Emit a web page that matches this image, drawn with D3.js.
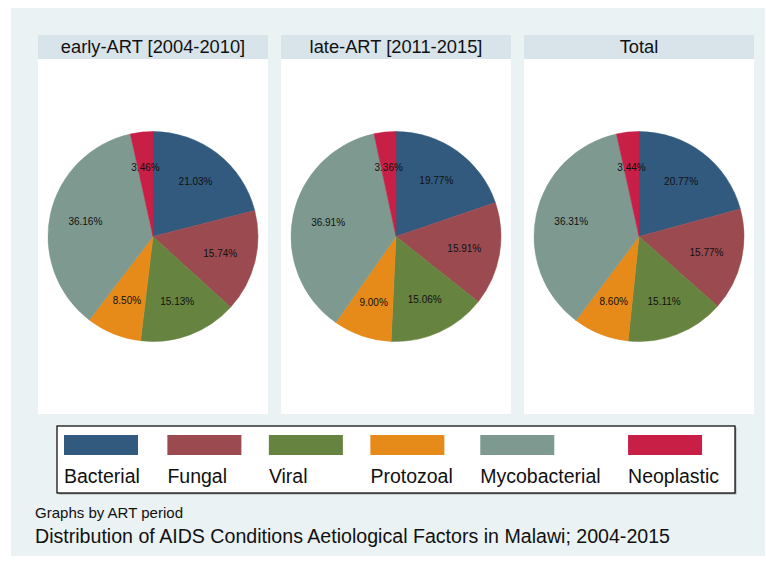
<!DOCTYPE html>
<html>
<head>
<meta charset="utf-8">
<script src="https://cdn.jsdelivr.net/npm/d3@7"></script>
<style>
  html, body { margin: 0; padding: 0; background: #fff; }
  svg { display: block; font-family: "Liberation Sans", Arial, sans-serif; }
</style>
</head>
<body>
<div class="canvas"></div>
<script>
const categories = ['Bacterial', 'Fungal', 'Viral', 'Protozoal', 'Mycobacterial', 'Neoplastic'];
const panels = ['early-ART [2004-2010]', 'late-ART [2011-2015]', 'Total'];
const earlyArt = [21.03, 15.74, 15.13, 8.50, 36.16, 3.46];
const lateArt = [19.77, 15.91, 15.06, 9.00, 36.91, 3.36];
const total = [20.77, 15.77, 15.11, 8.60, 36.31, 3.44];
const colours = ['#325a7e', '#9b4a50', '#66833f', '#e68a1a', '#7e998f', '#c81f47'];

const series = [earlyArt, lateArt, total];
const dims = { width: 766, height: 564 };

const svg = d3.select('.canvas')
    .append('svg')
    .attr('width', dims.width)
    .attr('height', dims.height)
;

// outer light background
svg.append('rect')
    .attr('x', 11).attr('y', 8)
    .attr('width', 754).attr('height', 548)
    .attr('fill', '#eaf2f3')
;

const x = d3.scaleBand()
    .domain(panels)
    .range([38, 754])
    .paddingInner(13 / 243)
    .paddingOuter(0)
;

const colour = d3.scaleOrdinal()
    .domain(categories)
    .range(colours)
;

const panelTop = 35, headerH = 24, panelBottom = 414;
const radius = 105;

const pie = d3.pie()
    .sort(null)
    .value(v => v.value)
;

const arcPath = d3.arc()
    .outerRadius(radius)
    .innerRadius(0)
;

const labelArc = d3.arc()
    .outerRadius(radius * 0.66)
    .innerRadius(radius * 0.66)
;

panels.forEach((name, i) => {
    const px = x(name);
    const bw = x.bandwidth();

    // panel body
    svg.append('rect')
        .attr('x', px).attr('y', panelTop)
        .attr('width', bw).attr('height', panelBottom - panelTop)
        .attr('fill', '#ffffff')
    ;

    // header strip
    svg.append('rect')
        .attr('x', px).attr('y', panelTop)
        .attr('width', bw).attr('height', headerH)
        .attr('fill', '#d8e4ea')
    ;

    svg.append('text')
        .attr('x', px + bw / 2)
        .attr('y', panelTop + 18)
        .attr('text-anchor', 'middle')
        .attr('font-size', 18.3)
        .attr('fill', '#111')
        .text(name)
    ;

    const data = categories.map((c, j) => ({ name: c, value: series[i][j] }));
    const cy = (panelTop + headerH + panelBottom) / 2;

    const graph = svg.append('g')
        .attr('transform', `translate(${px + bw / 2}, ${cy})`)
    ;

    graph.selectAll('path')
        .data(pie(data))
        .enter()
        .append('path')
        .attr('d', arcPath)
        .attr('fill', d => colour(d.data.name))
        .attr('stroke', d => colour(d.data.name))
        .attr('stroke-width', 0.5)
    ;

    graph.selectAll('text')
        .data(pie(data))
        .enter()
        .append('text')
        .attr('transform', d => `translate(${labelArc.centroid(d)})`)
        .attr('text-anchor', 'middle')
        .attr('dy', '0.35em')
        .attr('font-size', 10)
        .attr('fill', '#111')
        .text(d => d3.format('.2f')(d.data.value) + '%')
    ;
});

// legend
const legend = { x: 57, y: 426, w: 678, h: 67 };
svg.append('rect')
    .attr('x', legend.x + 1.5).attr('y', legend.y + 1.5)
    .attr('width', legend.w).attr('height', legend.h)
    .attr('fill', '#a8a8a8')
;
svg.append('rect')
    .attr('x', legend.x).attr('y', legend.y)
    .attr('width', legend.w).attr('height', legend.h)
    .attr('fill', '#fff')
    .attr('stroke', '#000')
    .attr('stroke-width', 1.2)
;

let kx = 64;
categories.forEach((c) => {
    svg.append('rect')
        .attr('x', kx).attr('y', 435)
        .attr('width', 74).attr('height', 20)
        .attr('fill', colour(c))
    ;
    const t = svg.append('text')
        .attr('x', kx).attr('y', 483)
        .attr('font-size', 19.5)
        .attr('fill', '#111')
        .text(c)
    ;
    const tw = t.node().getComputedTextLength();
    kx += Math.max(tw, 74) + 27.5;
});

// notes and title
svg.append('text')
    .attr('x', 35).attr('y', 518)
    .attr('font-size', 14.5)
    .attr('fill', '#111')
    .attr('textLength', 148)
    .attr('lengthAdjust', 'spacingAndGlyphs')
    .text('Graphs by ART period')
;

svg.append('text')
    .attr('x', 35).attr('y', 543)
    .attr('font-size', 19.5)
    .attr('fill', '#111')
    .attr('textLength', 635)
    .attr('lengthAdjust', 'spacingAndGlyphs')
    .text('Distribution of AIDS Conditions Aetiological Factors in Malawi; 2004-2015')
;
</script>
</body>
</html>
